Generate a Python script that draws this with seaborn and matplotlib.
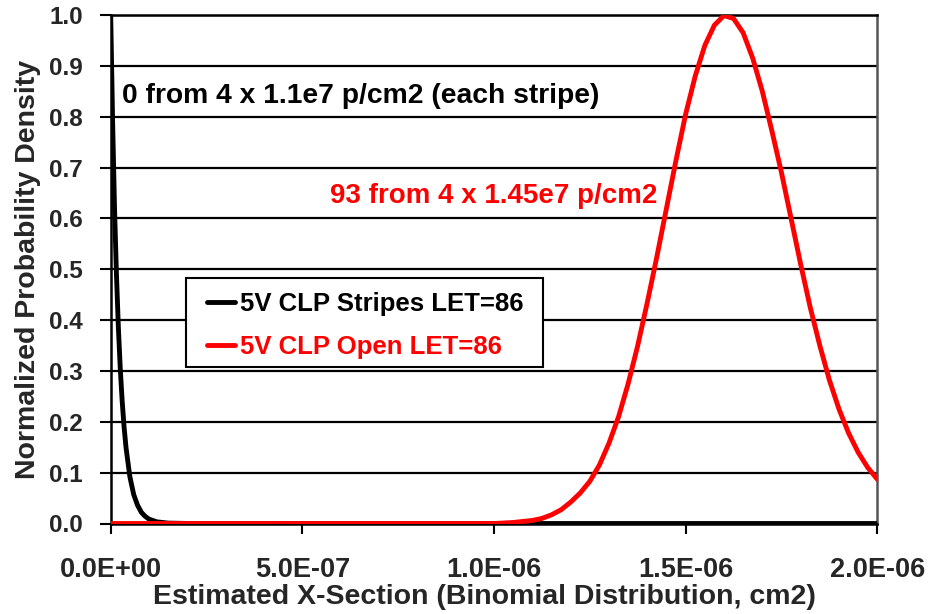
import matplotlib
matplotlib.use("Agg")
import matplotlib.pyplot as plt
import matplotlib.patches as mpatches
import seaborn as sns
import numpy as np

# ---- data ----
# Stripes curve (black): x in cm2
stripes_x = [0.0, 0.5e-8, 1.0e-8, 1.5e-8, 2.0e-8, 2.5e-8, 3.0e-8, 3.5e-8, 4.0e-8,
             5.0e-8, 6.0e-8, 7.0e-8, 8.0e-8, 9.0e-8, 1.0e-7, 1.2e-7, 1.5e-7,
             2.0e-7, 5.0e-7, 1.0e-6, 1.5e-6, 2.0e-6]
stripes_y = [1.0, 0.79, 0.62, 0.49, 0.386, 0.304, 0.24, 0.189, 0.149,
             0.092, 0.057, 0.036, 0.022, 0.014, 0.0086, 0.0033, 0.0008,
             0.0001, 0.0, 0.0, 0.0, 0.0]

# Open curve (red)
open_x = [0.0, 0.5e-6, 1.0e-6, 1.05e-6, 1.1e-6, 1.125e-6, 1.15e-6, 1.175e-6, 1.2e-6,
          1.225e-6, 1.25e-6, 1.275e-6, 1.3e-6, 1.325e-6, 1.35e-6, 1.375e-6,
          1.4e-6, 1.425e-6, 1.45e-6, 1.475e-6, 1.5e-6, 1.525e-6, 1.55e-6,
          1.575e-6, 1.6e-6, 1.625e-6, 1.65e-6, 1.675e-6, 1.7e-6, 1.725e-6,
          1.75e-6, 1.775e-6, 1.8e-6, 1.825e-6, 1.85e-6, 1.875e-6, 1.9e-6,
          1.925e-6, 1.95e-6, 1.975e-6, 2.0e-6]
open_y = [0.0, 0.0, 0.0, 0.002, 0.006, 0.010, 0.017, 0.027, 0.042,
          0.060, 0.083, 0.115, 0.158, 0.210, 0.275, 0.350,
          0.435, 0.525, 0.620, 0.715, 0.805, 0.880, 0.940,
          0.980, 0.999, 0.993, 0.965, 0.915, 0.850, 0.772,
          0.690, 0.600, 0.510, 0.425, 0.350, 0.282, 0.225,
          0.178, 0.140, 0.110, 0.087]

series_labels = ["5V CLP Stripes LET=86", "5V CLP Open LET=86"]
x_ticks = [0.0, 5.0e-7, 1.0e-6, 1.5e-6, 2.0e-6]
x_tick_labels = ["0.0E+00", "5.0E-07", "1.0E-06", "1.5E-06", "2.0E-06"]
y_ticks = [0.0, 0.1, 0.2, 0.3, 0.4, 0.5, 0.6, 0.7, 0.8, 0.9, 1.0]
y_tick_labels = ["0.0", "0.1", "0.2", "0.3", "0.4", "0.5", "0.6", "0.7", "0.8", "0.9", "1.0"]
annot_black = "0 from 4 x 1.1e7 p/cm2 (each stripe)"
annot_red = "93 from 4 x 1.45e7 p/cm2"
x_label = "Estimated X-Section (Binomial Distribution, cm2)"
y_label = "Normalized Probability Density"

# ---- style ----
sns.set_theme(style="white")
plt.rcParams["font.family"] = ["Liberation Sans", "DejaVu Sans"]
plt.rcParams["font.weight"] = "bold"

W, H = 932, 614
fig = plt.figure(figsize=(W / 100, H / 100), dpi=100)
ax = fig.add_axes([110.7 / W, 1 - 523.5 / H, (877.3 - 110.7) / W, (523.5 - 15) / H])

sns.lineplot(x=stripes_x, y=stripes_y, ax=ax, color="black", linewidth=3.5,
             label=series_labels[0], zorder=3)
sns.lineplot(x=open_x, y=open_y, ax=ax, color="#ff0000", linewidth=3.5,
             label=series_labels[1], zorder=4)

ax.set_xlim(0, 2.0e-6)
ax.set_ylim(0, 1.0)
ax.set_xticks(x_ticks)
ax.set_xticklabels(x_tick_labels, fontsize=19.5, fontweight="bold")
ax.set_yticks(y_ticks)
ax.set_yticklabels(y_tick_labels, fontsize=17.5, fontweight="bold")
ax.tick_params(axis="x", direction="out", length=7, width=1.5, color="black", pad=17, bottom=True)
ax.tick_params(axis="y", direction="out", length=8, width=1.5, color="black", pad=12, left=True)

ax.yaxis.grid(True, color="black", linewidth=1.6)
ax.xaxis.grid(False)
ax.set_axisbelow(True)

for side in ["left", "bottom", "top"]:
    ax.spines[side].set_color("black")
    ax.spines[side].set_linewidth(1.8)
ax.spines["right"].set_color("#555555")
ax.spines["right"].set_linewidth(1.8)

ax.set_xlabel(x_label, fontsize=20.5, fontweight="bold")
ax.xaxis.set_label_coords(0.488, -0.118)
ax.set_ylabel(y_label, fontsize=20.5, fontweight="bold", labelpad=6)

ax.text(0.015, 0.827, annot_black, transform=ax.transAxes, fontsize=20.3,
        fontweight="bold", color="black", ha="left", va="baseline")
ax.text(0.286, 0.63, annot_red, transform=ax.transAxes, fontsize=20,
        fontweight="bold", color="#ff0000", ha="left", va="baseline")

# legend frame (drawn as a plain box, like the reference)
frame = mpatches.Rectangle((186 / W, 1 - 367 / H), (543 - 186) / W, (367 - 278) / H,
                           transform=fig.transFigure, facecolor="white",
                           edgecolor="black", linewidth=1.5, zorder=5, clip_on=False)
ax.add_patch(frame)

leg = ax.legend(loc="upper left", bbox_to_anchor=(199 / W, 1 - 284 / H),
                bbox_transform=fig.transFigure, frameon=False,
                prop={"size": 18.5, "weight": "bold"}, handlelength=1.1,
                handletextpad=0.2, labelspacing=0.76, borderpad=0.3,
                borderaxespad=0)
leg.set_zorder(6)
for txt, col in zip(leg.get_texts(), ["black", "#ff0000"]):
    txt.set_color(col)

fig.savefig("out.png", dpi=100)
